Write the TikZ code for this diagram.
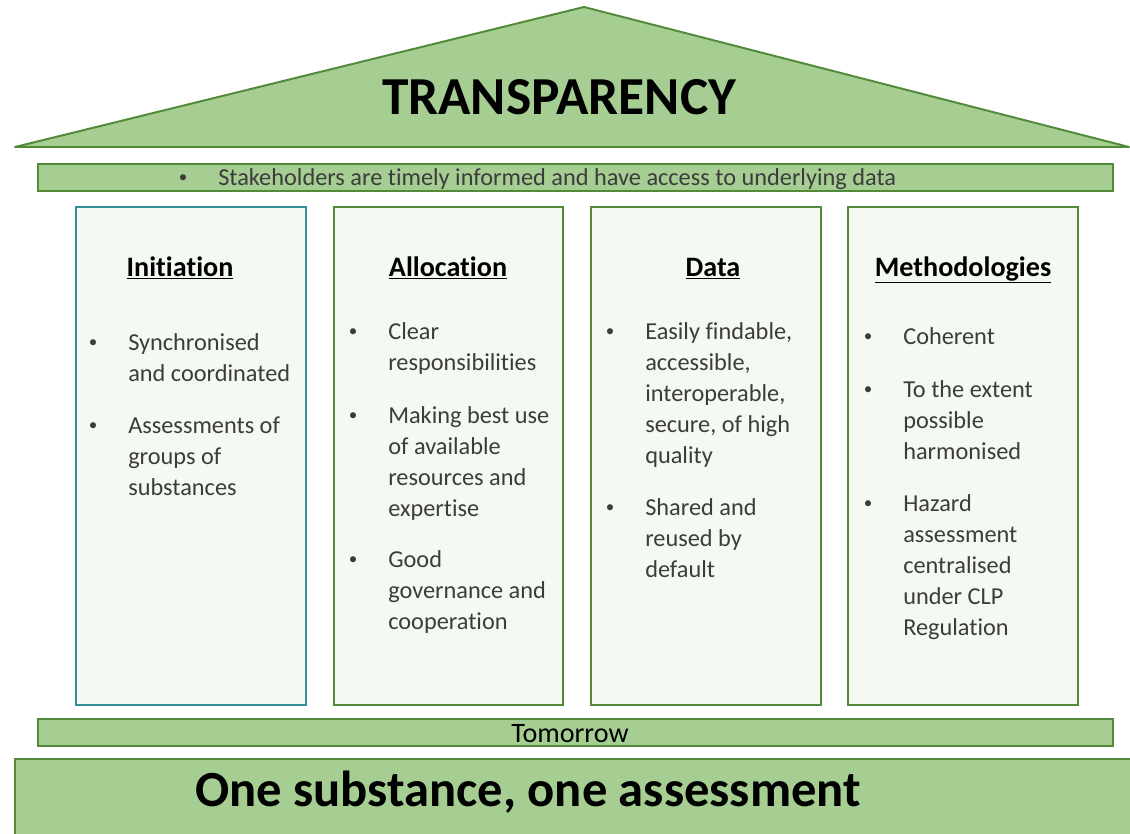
\documentclass[tikz,border=0pt]{standalone}
\usepackage{fontspec}
\setmainfont{Carlito}[Ligatures=NoCommon]

\definecolor{housegreen}{RGB}{82,138,58}
\definecolor{checkgreen}{RGB}{166,206,146}
\definecolor{pillarfill}{RGB}{244,249,242}
\definecolor{pillarteal}{RGB}{54,142,154}
\definecolor{bodygray}{RGB}{60,60,60}

\tikzset{
  band/.style={draw=housegreen, line width=1.4pt, fill=checkgreen},
  pillar/.style={draw=housegreen, line width=1.4pt, fill=pillarfill},
  heading/.style={font=\fontsize{20}{24}\selectfont\bfseries, text=black, inner sep=0pt, anchor=base},
  itemtext/.style={font=\fontsize{17.3}{22}\selectfont, text=bodygray, align=left, inner sep=0pt, anchor=north west},
}

% small bullet, centred 25pt left of the text
\newcommand\smallbul{\llap{\makebox[0pt]{\raisebox{0.1em}{\scalebox{0.7}{•}}}\hspace{25pt}}}
% one bullet item: name, left x, first baseline y, text
\newcommand\pillaritem[4]{%
  \node[itemtext] (#1) at (#2,{#3-21.65}) {\strut\smallbul#4};}

\begin{document}
\begin{tikzpicture}[x=0.25mm, y=-0.25mm]
  \clip (0,0) rectangle (1130,834);

  % roof
  \draw[band, line join=round] (15,147) -- (584,7) -- (1129,147) -- cycle;
  \node[font=\fontsize{38}{44}\selectfont\bfseries, inner sep=0pt, anchor=base] (transp) at (559,114) {TRANSPARENCY};

  \draw[band] (38,164) rectangle (1113,191);
  \node[font=\fontsize{17.3}{21}\selectfont, text=bodygray, inner sep=0pt, anchor=base west] (stake) at (218,185)
    {\smallbul Stakeholders are timely informed and have access to underlying data};

  % pillars
  \draw[pillar, draw=pillarteal] (76,207) rectangle (306,705);
  \draw[pillar] (334,207) rectangle (563,705);
  \draw[pillar] (591,207) rectangle (821,705);
  \draw[pillar] (848,207) rectangle (1078,705);

  \node[heading] (hInit) at (180,276) {\underline{Initiation}};
  \node[heading] (hAlloc) at (448,276) {\underline{Allocation}};
  \node[heading] (hData) at (713,276) {\underline{Data}};
  \node[heading] (hMeth) at (963,276) {\underline{Methodologies}};

  \pillaritem{init1}{128}{350}{Synchronised\\and coordinated}
  \pillaritem{init2}{128}{433}{Assessments of\\groups of\\substances}

  \pillaritem{alloc1}{388}{339}{Clear\\responsibilities}
  \pillaritem{alloc2}{388}{423}{Making best use\\of available\\resources and\\expertise}
  \pillaritem{alloc3}{388}{567}{Good\\governance and\\cooperation}

  \pillaritem{data1}{645}{339}{Easily findable,\\accessible,\\interoperable,\\secure, of high\\quality}
  \pillaritem{data2}{645}{515}{Shared and\\reused by\\default}

  \pillaritem{meth1}{903}{344}{Coherent}
  \pillaritem{meth2}{903}{397}{To the extent\\possible\\harmonised}
  \pillaritem{meth3}{903}{511}{Hazard\\assessment\\centralised\\under CLP\\Regulation}

  % base
  \draw[band] (38,719) rectangle (1113,746);
  \node[font=\fontsize{20}{24}\selectfont, inner sep=0pt, anchor=base] (tomorrow) at (570,742) {Tomorrow};

  \draw[band] (15,759) rectangle (1140,845);
  \node[font=\fontsize{36}{42}\selectfont\bfseries, inner sep=0pt, anchor=base] (oneassess) at (528,806) {One substance, one assessment};
\end{tikzpicture}
\end{document}
